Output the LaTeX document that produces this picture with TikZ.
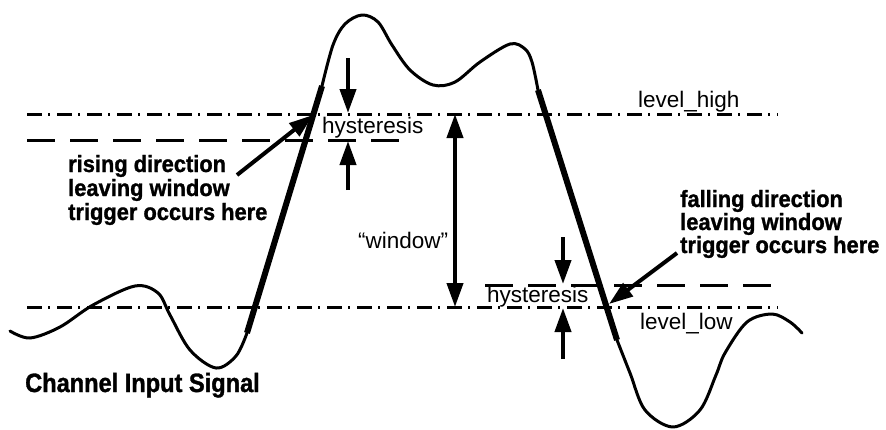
\documentclass[tikz,border=0pt]{standalone}
\usepackage{fontspec}
\setmainfont{Liberation Sans}
\newfontfamily\notefont{Liberation Sans Bold}[FakeStretch=0.93, FakeBold=1.2]
\newfontfamily\titlefont{Liberation Sans Bold}[FakeStretch=0.89, FakeBold=1.2]
\usetikzlibrary{arrows.meta}
\tikzset{
  levelline/.style={line width=3pt, dash pattern=on 15pt off 6pt on 2pt off 7pt},
  hystline/.style={line width=3pt, dash pattern=on 28pt off 15pt},
  signal/.style={line width=3pt, line join=round, line cap=round},
  trig/.style={line width=6pt},
  arr/.style={line width=4pt, -{Triangle[length=24pt,width=16pt]}},
  dblarr/.style={line width=4pt, {Triangle[length=24pt,width=16pt]}-{Triangle[length=24pt,width=16pt]}},
  lbl/.style={font=\fontsize{22.5}{24}\selectfont, inner sep=0pt, anchor=base west},
  note/.style={font=\notefont\fontsize{23.5}{24}\selectfont, inner sep=0pt, anchor=base west},
  title/.style={font=\titlefont\fontsize{26.5}{28}\selectfont, inner sep=0pt, anchor=base west}
}
\begin{document}
\begin{tikzpicture}[x=1pt,y=-1pt]
\useasboundingbox (0,0) rectangle (886,429);
% level lines
\coordinate (hlA) at (27,114);  \coordinate (hlB) at (778,114);
\coordinate (llA) at (27,307);  \coordinate (llB) at (778,307);
\coordinate (uhA) at (27,140);  \coordinate (uhB) at (400,140);
\coordinate (lhA) at (485,285); \coordinate (lhB) at (773,285);
\draw[levelline] (hlA) -- (hlB);
\draw[levelline] (llA) -- (llB);
\draw[hystline] (uhA) -- (uhB);
\draw[hystline] (lhA) -- (lhB);
% signal
\coordinate (r0) at (247,333); \coordinate (r1) at (322,86);
\coordinate (f0) at (538,90);  \coordinate (f1) at (617,340);
\draw[signal] plot[smooth, tension=0.55] coordinates {(10,331) (30,338) (60,327) (93,305) (135,286) (158,293) (170,315) (190,350) (216,368) (236,356) (247,333)}
  -- plot[smooth, tension=0.55] coordinates {(322,86) (333,45) (345,24) (362,15) (378,22) (392,45) (410,70) (433,85) (455,82) (480,62) (510,44) (525,49) (532,62) (538,90)}
  -- plot[smooth, tension=0.55] coordinates {(617,340) (630,373) (645,410) (673,427) (700,410) (716,375) (725,353) (747,322) (772,314) (790,322) (802,333)};
\draw[trig] (r0) -- (r1);
\draw[trig] (f0) -- (f1);
% hysteresis arrows (upper)
\coordinate (ua1) at (348,58);  \coordinate (ua2) at (348,113);
\coordinate (ub1) at (348,190); \coordinate (ub2) at (348,141);
\draw[arr] (ua1) -- (ua2);
\draw[arr] (ub1) -- (ub2);
% window arrow
\coordinate (w1) at (455,114); \coordinate (w2) at (455,307);
\draw[dblarr] (w1) -- (w2);
% hysteresis arrows (lower)
\coordinate (la1) at (563,237); \coordinate (la2) at (563,284);
\coordinate (lb1) at (563,359); \coordinate (lb2) at (563,308);
\draw[arr] (la1) -- (la2);
\draw[arr] (lb1) -- (lb2);
% labels
\node[lbl] (hyst1) at (322,133) {hysteresis};
\node[lbl] (hyst2) at (487,302) {hysteresis};
\node[lbl] (win) at (358,248) {“window”};
\node[lbl] (lh) at (638,107) {level\_high};
\node[lbl] (ll) at (640,329) {level\_low};
\node[note] (rise1) at (68,172) {rising direction};
\node[note] (rise2) at (68,196) {leaving window};
\node[note] (rise3) at (68,220) {trigger occurs here};
\node[note] (fall1) at (680,207) {falling direction};
\node[note] (fall2) at (680,230) {leaving window};
\node[note] (fall3) at (680,253) {trigger occurs here};
\node[title] (chan) at (25,392) {Channel Input Signal};
% annotation arrows
\coordinate (rt) at (313,115); \coordinate (rs) at (237,175);
\coordinate (ft) at (609,304); \coordinate (fs) at (677,253);
\draw[arr] (rs) -- (rt);
\draw[arr] (fs) -- (ft);
\end{tikzpicture}
\end{document}
